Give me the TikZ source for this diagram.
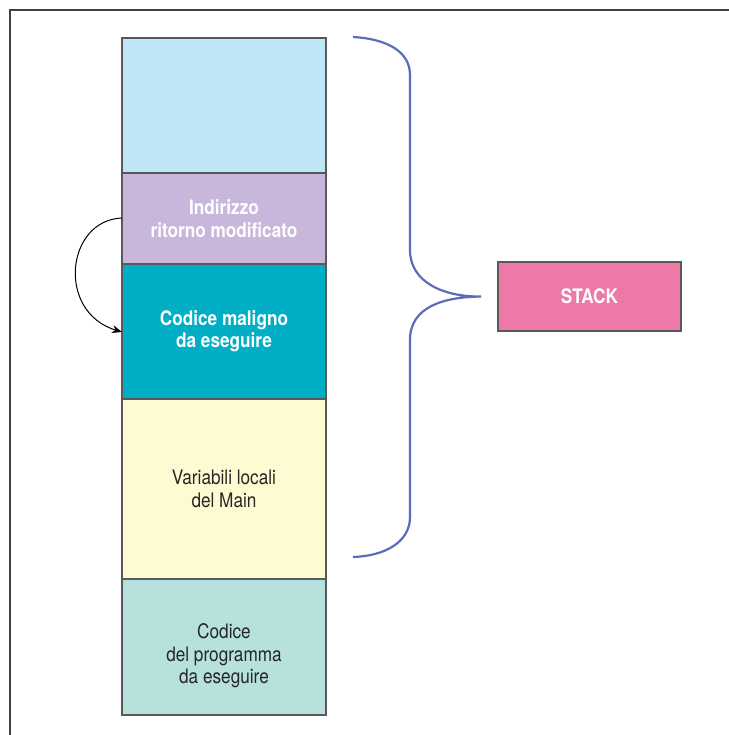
\documentclass[tikz,border=0pt]{standalone}
\usepackage{fontspec}
\setmainfont{TeX Gyre Heros}[FakeStretch=0.86]
\usetikzlibrary{arrows.meta,positioning,calc}

\definecolor{freeblue}{HTML}{BEE6F7}
\definecolor{retlilac}{HTML}{C8B7DA}
\definecolor{maltea}{HTML}{00AFC5}
\definecolor{locyel}{HTML}{FEFBD2}
\definecolor{codeteal}{HTML}{B6E1DD}
\definecolor{stackpink}{HTML}{EE78A8}
\definecolor{bracebl}{HTML}{5D6CB9}

\begin{document}
\begin{tikzpicture}[
  x=0.5pt, y=-0.5pt,
  cell/.style={draw=black!65, line width=0.6pt, rectangle, minimum width=102pt,
               inner sep=0pt, outer sep=0pt, align=center,
               font=\fontsize{10}{11.2}\selectfont},
  hot/.style={text=white, font=\fontsize{10}{11.2}\selectfont\bfseries},
  txt/.style={text=black!85, align=center, font=\fontsize{10}{11.2}\selectfont},
  lnk/.style={-{Stealth[length=5pt,width=4pt]}, line width=0.5pt},
  brc/.style={draw=bracebl, line width=1.1pt},
]
\useasboundingbox (0,0) rectangle (729,735);
% open frame, top and left only
\draw[black!75, line width=0.8pt] (729,10) -- (10,10) -- (10,735);

% memory cells, top to bottom
\node[cell, fill=freeblue, minimum height=67.5pt] (free) at (224,105.5) {};
\node[cell, fill=retlilac, minimum height=45.5pt, hot] (ret) at (224,218.5)
  {Indirizzo\\ritorno modificato};
\node[cell, fill=maltea, minimum height=67.5pt, hot] (mal) at (224,331.5)
  {Codice maligno\\da eseguire};
\node[cell, fill=locyel, minimum height=90pt, txt] (loc) at (224,489)
  {Variabili locali\\del Main};
\node[cell, fill=codeteal, minimum height=68pt,
      label={[txt, yshift=-4.5pt]center:{Codice\\del programma\\da eseguire}}]
  (code) at (224,647) {};

\node[cell, fill=stackpink, minimum width=91.5pt, minimum height=34.5pt, hot]
  (stack) at (589.5,296.5) {STACK};

% return address now points into the injected code
\draw[lnk] (ret.west |- 0,218) .. controls (66,220) and (56,312) .. (mal.west |- 0,332);

% brace over the stack part
\coordinate (tip) at ($(stack.west)+(-17,0)$);
\draw[brc] (353,37) .. controls (388,39) and (410,52) .. (410,75)
  -- (410,250) .. controls (410,283) and (445,297) .. (tip)
  .. controls (445,297) and (410,306) .. (410,340)
  -- (410,517) .. controls (410,542) and (385,556) .. (353,557);
\end{tikzpicture}
\end{document}
